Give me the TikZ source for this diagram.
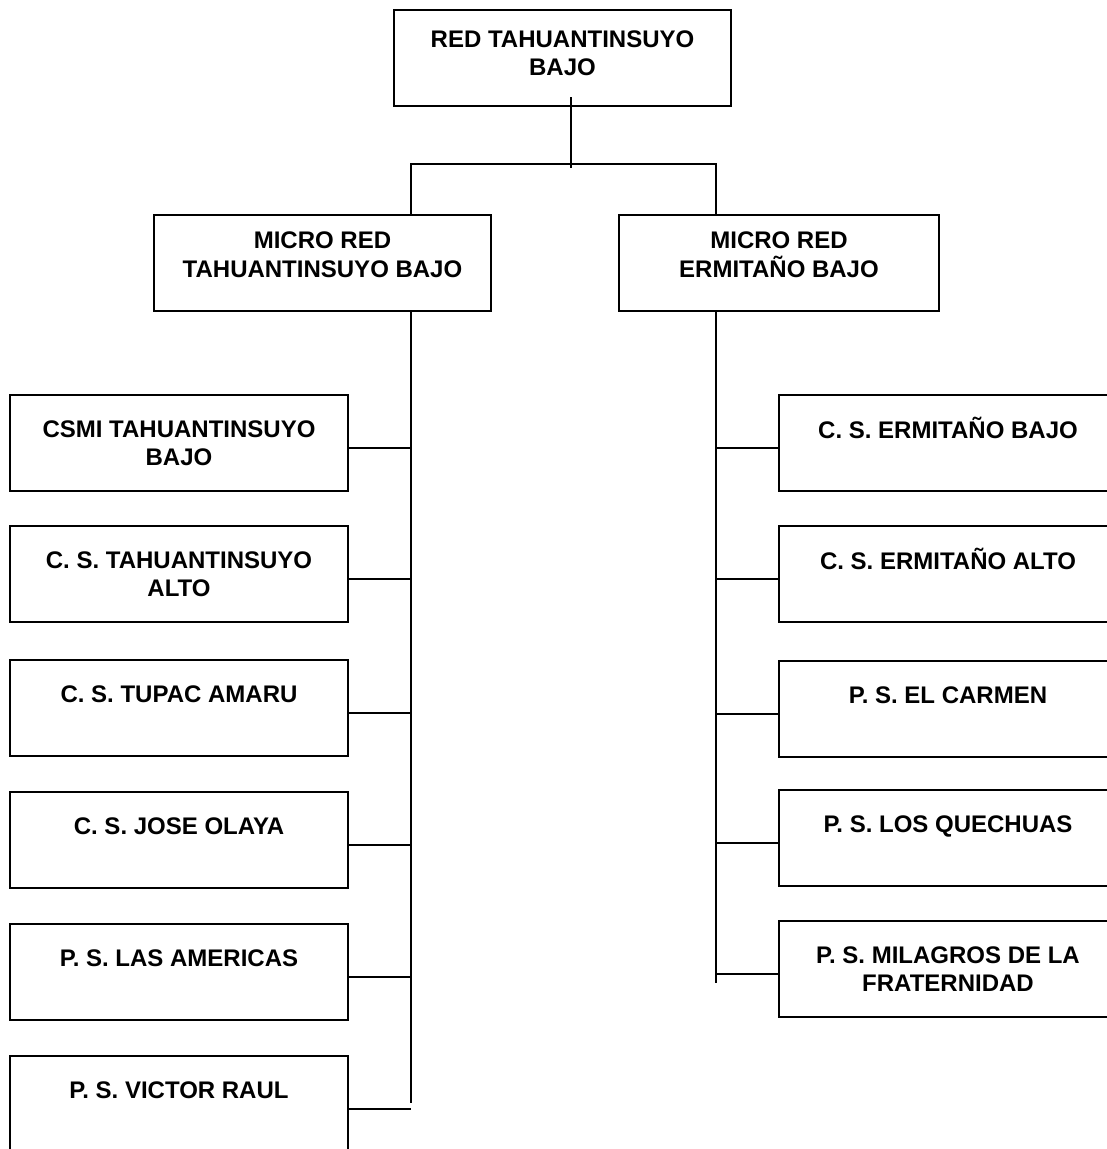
\documentclass[tikz,border=0pt]{standalone}
\usepackage{fontspec}
\setmainfont{Liberation Sans}
\newcommand{\bxt}[3][0pt]{\raisebox{#1}[\height][\depth]{\begin{tabular}{@{}c@{}}#2\\\mbox{}#3\end{tabular}}}
\begin{document}
\begin{tikzpicture}[x=1pt,y=-1pt,
  font=\fontsize{24}{28.5}\selectfont\bfseries,
  box/.style={draw, line width=2.7pt, inner sep=0pt, minimum width=338pt, minimum height=96pt},
  conn/.style={draw, line width=2.5pt}]
\useasboundingbox (0,0) rectangle (1107,1149);
\clip (0,0) rectangle (1107,1149);
\fill[white] (0,0) rectangle (1107,1149);

% top
\node[box, minimum width=337pt] (top) at (562.5,58) {\bxt[2pt]{RED TAHUANTINSUYO}{BAJO}};
% micro reds
\node[box, minimum width=337pt] (mL) at (322.5,263) {\bxt[5.7pt]{MICRO RED}{TAHUANTINSUYO BAJO}};
\node[box, minimum width=320pt] (mR) at (779,263) {\bxt[5.7pt]{MICRO RED}{ERMITAÑO BAJO}};

% left column
\node[box] (L1) at (179,443) {\bxt[-3pt]{CSMI TAHUANTINSUYO}{BAJO}};
\node[box] (L2) at (179,574) {\bxt[-3pt]{C. S. TAHUANTINSUYO}{ALTO}};
\node[box] (L3) at (179,708) {\bxt[-3pt]{C. S. TUPAC AMARU}{}};
\node[box] (L4) at (179,840) {\bxt[-3pt]{C. S. JOSE OLAYA}{}};
\node[box] (L5) at (179,972) {\bxt[-3pt]{P. S. LAS AMERICAS}{}};
\node[box] (L6) at (179,1104) {\bxt[-3pt]{P. S. VICTOR RAUL}{}};

% right column
\node[box] (R1) at (948,443) {\bxt[-3pt]{C. S. ERMITAÑO BAJO}{}};
\node[box] (R2) at (948,574) {\bxt[-3pt]{C. S. ERMITAÑO ALTO}{}};
\node[box] (R3) at (948,709) {\bxt[-3pt]{P. S. EL CARMEN}{}};
\node[box] (R4) at (948,838) {\bxt[-3pt]{P. S. LOS QUECHUAS}{}};
\node[box] (R5) at (948,969) {\bxt[-3pt]{P. S. MILAGROS DE LA}{FRATERNIDAD}};

% junction coordinates
\coordinate (t0) at (571,97);
\coordinate (t1) at (571,168);
\coordinate (j) at (411,164);
\coordinate (jR) at (716,164);
\coordinate (eL) at (411,1103);
\coordinate (eR) at (716,983);

\draw[conn] (t0) -- (t1);
\draw[conn] (mL.north -| j) -- (j) -- (jR) -- (mR.north -| jR);
\draw[conn] (mL.south -| j) -- (eL);
\draw[conn] (mR.south -| jR) -- (eR);

\foreach \n in {L1,L2,L3,L4,L5,L6}
  \draw[conn] ([yshift=-5pt]\n.east) -- ([yshift=-5pt]\n.east -| eL);
\foreach \n in {R1,R2,R3,R4,R5}
  \draw[conn] ([yshift=-5pt]\n.west) -- ([yshift=-5pt]\n.west -| eR);
\end{tikzpicture}
\end{document}
